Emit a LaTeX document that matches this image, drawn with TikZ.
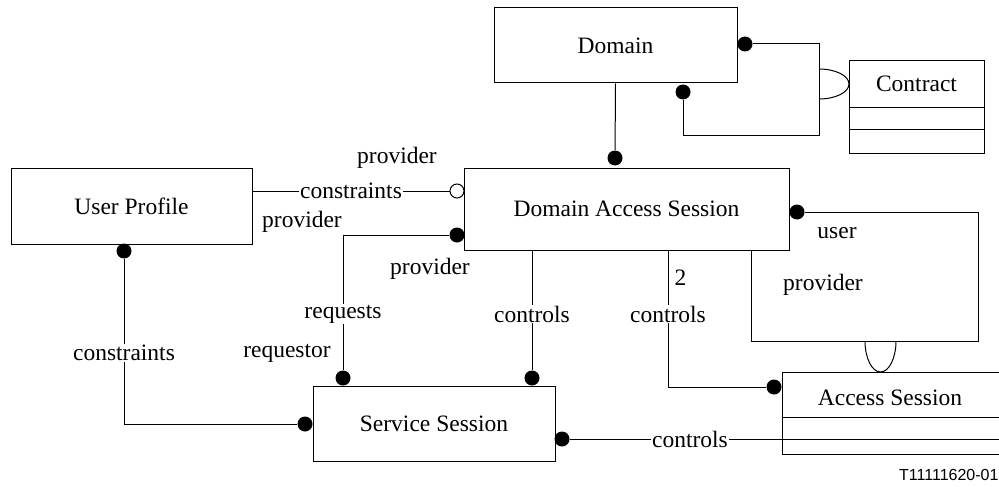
\documentclass[tikz,border=0pt]{standalone}
\usepackage{fontspec}
\setmainfont{Liberation Serif}
\newfontfamily\tagfont{Liberation Sans}
\begin{document}
\begin{tikzpicture}[x=1pt,y=-1pt,line width=1pt,
  box/.style={draw, inner sep=0pt, font=\fontsize{23.5}{27}\selectfont},
  lbl/.style={inner sep=1pt, font=\fontsize{23.5}{27}\selectfont},
  wlbl/.style={lbl, fill=white},
  dotc/.style={circle, fill=black, draw=none, inner sep=0pt, minimum size=15pt},
  odot/.style={circle, fill=white, draw, inner sep=0pt, minimum size=14pt}]
\useasboundingbox (0,0) rectangle (999,487);
% boxes
\node[box, minimum width=243pt, minimum height=75pt] (dom) at (615.5,45.5) {Domain};
\node[box, minimum width=135pt, minimum height=92pt] (con) at (916.5,107) {};
\node[lbl] (contxt) at (916.5,84) {Contract};
\draw (con.west |- 0,107) -- (con.east |- 0,107);
\draw (con.west |- 0,129) -- (con.east |- 0,129);
\node[box, minimum width=325pt, minimum height=82pt] (das) at (626.5,209) {Domain Access Session};
\node[box, minimum width=241pt, minimum height=76pt] (up) at (131.5,206) {User Profile};
\node[box, minimum width=242pt, minimum height=75pt] (ss) at (434,423.5) {Service Session};
\node[box, minimum width=228pt, minimum height=82pt] (as) at (896,413) {};
\node[lbl] (astxt) at (890,398) {Access Session};
\draw (as.west |- 0,417) -- (as.east |- 0,417);
% dots
\node[dotc] (d1) at (615,158) {};
\node[dotc] (d2) at (745,44) {};
\node[dotc] (d3) at (683,92) {};
\node[odot] (oc) at (457,191) {};
\node[dotc] (d4) at (457,235) {};
\node[dotc] (d5) at (343,378) {};
\node[dotc] (d6) at (532,378) {};
\node[dotc] (d7) at (124,251) {};
\node[dotc] (d8) at (305,424) {};
\node[dotc] (d9) at (562,439) {};
\node[dotc] (d10) at (774,387) {};
\node[dotc] (d11) at (797,212) {};
\coordinate (asr) at (1010,439);
% Domain - DAS
\draw (dom.south) -- (d1);
% Domain - Contract loop
\draw (d2) -- (819,44) -- (819,135) -- (683,135) -- (d3);
\draw (819,69) arc[start angle=-90, end angle=90, x radius=30, y radius=15];
% User Profile - DAS
\draw (up.east |- oc) -- (oc);
\node[wlbl] (l1) at (351,191) {constraints};
\node[lbl] (l2) at (397,158) {provider};
\node[lbl] (l3) at (302,222) {provider};
% DAS - SS requests
\draw (d4) -- (343,235) -- (d5);
\node[wlbl] (l4) at (343,314) {requests};
\node[lbl] (l5) at (430,269) {provider};
\node[lbl] (l6) at (287,353) {requestor};
% DAS - SS controls
\draw (das.south -| d6) -- (d6);
\node[wlbl] (l7) at (532,314) {controls};
% UP - SS constraints
\draw (d7) -- (124,424) -- (d8);
\node[wlbl] (l8) at (124,353) {constraints};
% SS - AS controls
\draw (d9) -- (asr);
\node[wlbl] (l9) at (690,439) {controls};
% DAS - AS controls 2
\draw (das.south -| 668,0) -- (668,387) -- (d10);
\node[lbl, anchor=west] (l10) at (673,278) {2};
\node[wlbl] (l11) at (668,314) {controls};
% DAS self loop / AS
\draw (d11) -- (978,212) -- (978,341) -- (751,341) -- (das.south -| 751,0);
\draw (865,341) arc[start angle=180, end angle=0, x radius=15.5, y radius=31];
\node[lbl] (l12) at (837,233) {user};
\node[lbl] (l13) at (823,285) {provider};
% tag
\node[anchor=east, inner sep=0pt, font=\tagfont\fontsize{16}{19}\selectfont] (tag) at (999,475) {T11111620-01};
\end{tikzpicture}
\end{document}
